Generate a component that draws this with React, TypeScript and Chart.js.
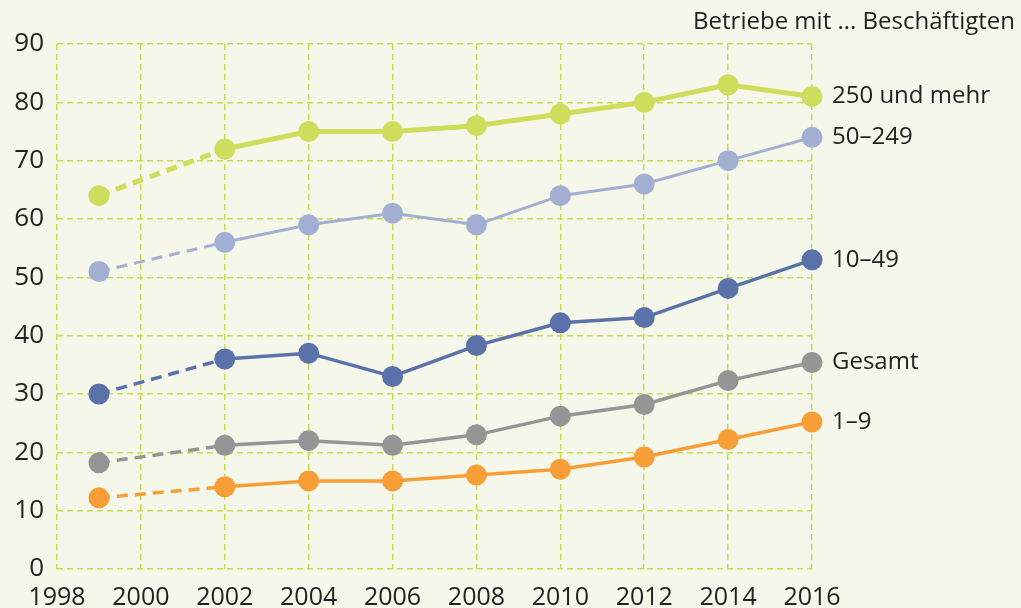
import React, { useEffect, useRef } from "react";
import { Chart, registerables } from "chart.js";

Chart.register(...registerables);

const years = [1999, 2002, 2004, 2006, 2008, 2010, 2012, 2014, 2016];
const seriesNames = ["250 und mehr", "50–249", "10–49", "Gesamt", "1–9"];
const v250 = [64, 72, 75, 75, 76, 78, 80, 83, 81];
const v50 = [51, 56, 59, 61, 59, 64, 66, 70, 74];
const v10 = [30, 36, 37, 33, 38.3, 42.2, 43.1, 48.1, 53];
const vGesamt = [18.2, 21.2, 22, 21.2, 23, 26.2, 28.2, 32.3, 35.4];
const v1 = [12.2, 14.1, 15.1, 15.1, 16.1, 17.1, 19.2, 22.2, 25.2];
const seriesColors = ["#CFDD5C", "#A2AFD2", "#5A72A9", "#959595", "#F89E36"];
const seriesWidths = [5, 3, 3.5, 3.5, 3.5];
const titleText = "Betriebe mit ... Beschäftigten";

const FONT = "'Open Sans', sans-serif";

export default function App() {
  const ref = useRef<HTMLCanvasElement>(null);
  useEffect(() => {
    document.body.style.margin = "0";
    const values = [v250, v50, v10, vGesamt, v1];
    const labelPlugin = {
      id: "endLabels",
      afterDatasetsDraw(chart: any) {
        const ctx = chart.ctx;
        ctx.save();
        ctx.fillStyle = "#222";
        ctx.font = `24px ${FONT}`;
        ctx.textBaseline = "middle";
        ctx.textAlign = "left";
        chart.data.datasets.forEach((ds: any, i: number) => {
          const meta = chart.getDatasetMeta(i);
          const pt = meta.data[meta.data.length - 1];
          ctx.fillText(ds.label, pt.x + 20, pt.y);
        });
        ctx.font = `24px ${FONT}`;
        ctx.textAlign = "right";
        ctx.fillText(titleText, 1015, 22);
        ctx.restore();
      },
    };
    const gridOpts = { color: "#C8DC4E", lineWidth: 1.5, drawTicks: false, borderDash: [6, 4] };
    const chart = new Chart(ref.current!, {
      type: "line",
      data: {
        datasets: values.map((vals, i) => ({
          label: seriesNames[i],
          data: years.map((y, j) => ({ x: y, y: vals[j] })),
          borderColor: seriesColors[i],
          backgroundColor: seriesColors[i],
          pointBackgroundColor: seriesColors[i],
          pointBorderWidth: 0,
          pointRadius: 10.5,
          borderWidth: seriesWidths[i],
          segment: {
            borderDash: (c: any) => (c.p0.parsed.x === 1999 ? [11, 7] : undefined),
          },
          clip: false as any,
        })),
      },
      options: {
        animation: false,
        responsive: false,
        maintainAspectRatio: false,
        layout: { padding: { top: 44, right: 209, left: 0, bottom: 0 } },
        plugins: { legend: { display: false }, tooltip: { enabled: false } },
        scales: {
          x: {
            type: "linear",
            min: 1998,
            max: 2016,
            ticks: { stepSize: 2, color: "#222", font: { family: FONT, size: 25 }, padding: 14, maxRotation: 0, callback: (v: any) => String(v) },
            grid: gridOpts,
            border: { display: false, dash: [6, 4] },
            afterFit: (s: any) => { s.height = 39; },
          },
          y: {
            min: 0,
            max: 90,
            ticks: { stepSize: 10, color: "#222", font: { family: FONT, size: 26 }, padding: 13 },
            grid: gridOpts,
            border: { display: false, dash: [6, 4] },
            afterFit: (s: any) => { s.width = 57; },
          },
        },
      },
      plugins: [labelPlugin],
    } as any);
    return () => chart.destroy();
  }, []);
  return (
    <div style={{ width: 1021, height: 608, background: "#F5F7EA" }}>
      <canvas ref={ref} width={1021} height={608} style={{ display: "block" }} />
    </div>
  );
}
